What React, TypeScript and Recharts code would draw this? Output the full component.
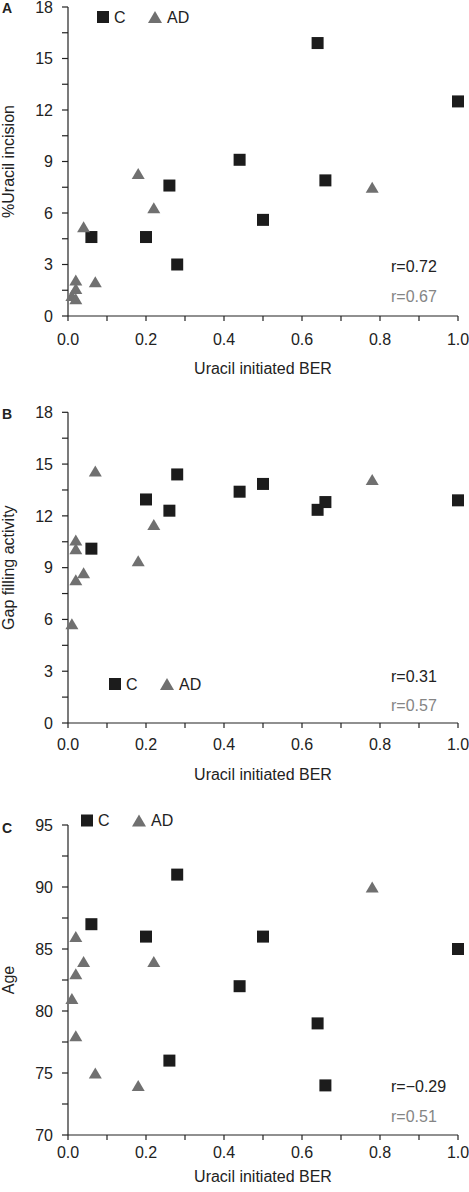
import { ScatterChart, Scatter, XAxis, YAxis } from "recharts";

// x values (uracil initiated BER), shared by the three panels
const berControl = [0.06, 0.2, 0.26, 0.28, 0.44, 0.5, 0.64, 0.66, 1.0];
const berAD = [0.01, 0.02, 0.02, 0.02, 0.04, 0.07, 0.18, 0.22, 0.78];

// panel A
const incisionControl = [4.6, 4.6, 7.6, 3.0, 9.1, 5.6, 15.9, 7.9, 12.5];
const incisionAD = [1.2, 2.1, 1.6, 1.0, 5.2, 2.0, 8.3, 6.3, 7.5];

// panel B
const gapControl = [10.1, 12.95, 12.3, 14.4, 13.4, 13.85, 12.35, 12.8, 12.9];
const gapAD = [5.75, 10.6, 10.1, 8.3, 8.7, 14.6, 9.4, 11.5, 14.1];

// panel C
const ageControl = [87, 86, 76, 91, 82, 86, 79, 74, 85];
const ageAD = [81, 86, 83, 78, 84, 75, 74, 84, 90];

const xTicks = [0, 0.1, 0.2, 0.3, 0.4, 0.5, 0.6, 0.7, 0.8, 0.9, 1.0];
const pctTicks = [0, 1.5, 3, 4.5, 6, 7.5, 9, 10.5, 12, 13.5, 15, 16.5, 18];
const ageTicks = [70, 72.5, 75, 77.5, 80, 82.5, 85, 87.5, 90, 92.5, 95];

const rA = ["r=0.72", "r=0.67"];
const rB = ["r=0.31", "r=0.57"];
const rC = ["r=\u22120.29", "r=0.51"];

const DARK = "#1c1c1c";
const GREY = "#707070";
const TEXT = "#222";
const FONT = "'Liberation Sans', Arial, sans-serif";

const zip = (xs: number[], ys: number[]) => xs.map((x, i) => ({ x, y: ys[i] }));

const SquareDot = (props: any) => {
  const { cx, cy } = props;
  return <rect x={cx - 6} y={cy - 6} width={12} height={12} fill={DARK} />;
};

const TriangleDot = (props: any) => {
  const { cx, cy } = props;
  return (
    <path
      d={`M${cx},${cy - 5.5} L${cx + 6.5},${cy + 5.5} L${cx - 6.5},${cy + 5.5} Z`}
      fill={GREY}
    />
  );
};

function Panel({
  letter,
  letterY,
  height,
  top,
  xAxisH,
  tickMargin,
  titleOffset,
  yLabel,
  yDomain,
  yTicks,
  yStep,
  control,
  ad,
  legendX,
  legendY,
  rLabels,
  rY,
}: any) {
  return (
    <div style={{ position: "relative", width: 469, height }}>
      <ScatterChart
        width={469}
        height={height}
        margin={{ top, right: 11, bottom: 0, left: 0 }}
      >
        <XAxis
          type="number"
          dataKey="x"
          domain={[0, 1]}
          ticks={xTicks}
          interval={0}
          height={xAxisH}
          tickSize={5}
          tickMargin={tickMargin}
          tickFormatter={(v: number) =>
            Math.round(v * 10) % 2 === 0 ? v.toFixed(1) : ""
          }
          tick={{ fill: TEXT, fontSize: 16 }}
          axisLine={{ stroke: TEXT, strokeWidth: 1.2 }}
          tickLine={{ stroke: TEXT, strokeWidth: 1.2 }}
          label={{
            value: "Uracil initiated BER",
            position: "insideBottom",
            offset: titleOffset,
            fill: TEXT,
            fontSize: 16,
          }}
        />
        <YAxis
          type="number"
          dataKey="y"
          domain={yDomain}
          ticks={yTicks}
          interval={0}
          width={68}
          tickSize={6}
          tickMargin={9}
          tickFormatter={(v: number) => (v % yStep === 0 ? String(v) : "")}
          tick={{ fill: TEXT, fontSize: 16 }}
          axisLine={{ stroke: TEXT, strokeWidth: 1.2 }}
          tickLine={{ stroke: TEXT, strokeWidth: 1.2 }}
          label={{
            value: yLabel,
            angle: -90,
            position: "insideLeft",
            offset: 8.5,
            fill: TEXT,
            fontSize: 16,
            style: { textAnchor: "middle" },
          }}
        />
        <Scatter
          name="C"
          data={control}
          shape={SquareDot}
          isAnimationActive={false}
        />
        <Scatter
          name="AD"
          data={ad}
          shape={TriangleDot}
          isAnimationActive={false}
        />
        <text x={2} y={letterY} fontSize={14} fontWeight="bold" fill={TEXT}>
          {letter}
        </text>
        <g>
          <rect x={legendX} y={legendY - 6} width={12} height={12} fill={DARK} />
          <text x={legendX + 17} y={legendY + 5.7} fontSize={16} fill={TEXT}>
            C
          </text>
          <path
            d={`M${legendX + 58},${legendY - 6} L${legendX + 65},${legendY + 6} L${legendX + 51},${legendY + 6} Z`}
            fill={GREY}
          />
          <text x={legendX + 70} y={legendY + 5.7} fontSize={16} fill={TEXT}>
            AD
          </text>
        </g>
        <text x={391} y={rY[0] + 5.7} fontSize={16} fill={TEXT}>
          {rLabels[0]}
        </text>
        <text x={391} y={rY[1] + 5.7} fontSize={16} fill="#858585">
          {rLabels[1]}
        </text>
      </ScatterChart>
    </div>
  );
}

export default function App() {
  return (
    <div
      style={{
        position: "absolute",
        left: 0,
        top: 0,
        width: 469,
        background: "#fff",
        fontFamily: FONT,
      }}
    >
      <Panel
        letter="A"
        letterY={13.3}
        height={380}
        top={7}
        xAxisH={64}
        tickMargin={12.3}
        titleOffset={6}
        yLabel="%Uracil incision"
        yDomain={[0, 18]}
        yTicks={pctTicks}
        yStep={3}
        control={zip(berControl, incisionControl)}
        ad={zip(berAD, incisionAD)}
        legendX={97}
        legendY={17}
        rLabels={rA}
        rY={[266.7, 296.7]}
      />
      <Panel
        letter="B"
        letterY={39.3}
        height={405}
        top={32.3}
        xAxisH={62}
        tickMargin={10.8}
        titleOffset={5}
        yLabel="Gap filling activity"
        yDomain={[0, 18]}
        yTicks={pctTicks}
        yStep={3}
        control={zip(berControl, gapControl)}
        ad={zip(berAD, gapAD)}
        legendX={109}
        legendY={304}
        rLabels={rB}
        rY={[296, 325]}
      />
      <Panel
        letter="C"
        letterY={47.7}
        height={407}
        top={40}
        xAxisH={57}
        tickMargin={6.3}
        titleOffset={9.6}
        yLabel="Age"
        yDomain={[70, 95]}
        yTicks={ageTicks}
        yStep={5}
        control={zip(berControl, ageControl)}
        ad={zip(berAD, ageAD)}
        legendX={81}
        legendY={35.5}
        rLabels={rC}
        rY={[301.7, 331.7]}
      />
    </div>
  );
}
